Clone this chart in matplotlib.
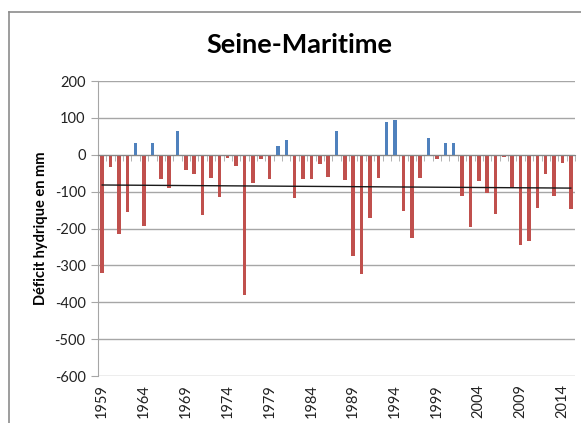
import matplotlib
matplotlib.use('Agg')
import numpy as np
import matplotlib.pyplot as plt
from matplotlib.lines import Line2D

# deficit hydrique annuel (mm), Seine-Maritime
years = list(range(1959, 2016))
deficit = [-320, -34, -216, -155, 32, -194, 33, -65, -90, 65,
           -41, -51, -163, -63, -114, -10, -31, -380, -77, -11,
           -65, 24, 40, -118, -65, -67, -26, -59, 65, -69,
           -275, -323, -171, -63, 88, 95, -153, -226, -63, 45,
           -12, 31, 32, -113, -196, -70, -104, -160, -6, -90,
           -246, -234, -144, -52, -112, -22, -146]
label_years = list(range(1959, 2015, 5))

red = '#C0504D'
blue = '#4F81BD'
grid_col = '#A6A6A6'

plt.rcParams['font.family'] = ['Lato', 'DejaVu Sans']
plt.rcParams['axes.unicode_minus'] = False

fig = plt.figure(figsize=(5.81, 4.23), dpi=100)
ax = fig.add_axes([98/581, 1-376/423, 477/581, 295/423])

x = np.array(years)
y = np.array(deficit)
colors = [blue if v > 0 else red for v in y]
ax.bar(x, y, width=0.42, color=colors, zorder=3)

# tendance lineaire
coef = np.polyfit(x, y, 1)
ax.plot(x, np.polyval(coef, x), color='#1A1A1A', lw=1, zorder=4)

ax.set_xlim(1958.5, 2015.5)
ax.set_ylim(-600, 200)
ax.set_yticks(range(-600, 201, 100))
ax.yaxis.grid(True, color=grid_col, lw=1)
ax.set_axisbelow(True)
ax.tick_params(axis='y', length=5, color=grid_col, labelsize=10.5, pad=4,
               labelcolor='#222222')

for s in ['top', 'right']:
    ax.spines[s].set_visible(False)
ax.spines['left'].set_color(grid_col)
ax.spines['bottom'].set_position(('data', 0))
ax.spines['bottom'].set_color('#868686')
ax.spines['bottom'].set_zorder(5)
ax.set_xticks([])
ax.set_xticks(np.arange(1958.5, 2016, 1), minor=True)
ax.tick_params(axis='x', which='minor', length=4, color='#A6A6A6', labelbottom=False)

sec = ax.secondary_xaxis('bottom')
sec.set_xticks(label_years)
sec.set_xticklabels([str(v) for v in label_years], rotation=90)
sec.tick_params(length=0, labelsize=10.5, pad=6, labelcolor='#222222')
sec.spines['bottom'].set_visible(False)

ax.set_ylabel('Déficit hydrique en mm', fontsize=10.5, fontweight='bold', labelpad=5)
fig.text(299/581, 1-45/423, 'Seine-Maritime', fontsize=19.5, fontweight='bold',
         ha='center', va='center')

# cadre du graphique
fig.add_artist(Line2D([9/581, 1], [1-12/423, 1-12/423], color='#8C8C8C', lw=1.2,
                      transform=fig.transFigure))
fig.add_artist(Line2D([9/581, 9/581], [0, 1-12/423], color='#8C8C8C', lw=1.2,
                      transform=fig.transFigure))

fig.savefig('out.png', dpi=100)
